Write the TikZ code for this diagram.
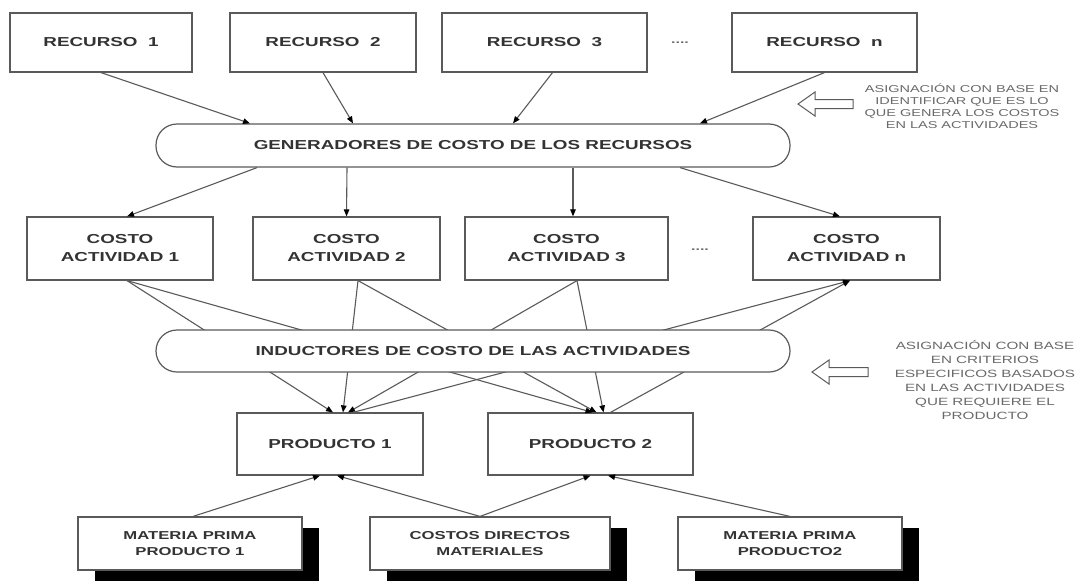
\documentclass[tikz,border=0pt]{standalone}
\usepackage{fontspec}
\newfontfamily\dfont{Liberation Sans}[FakeStretch=1.45]
\usetikzlibrary{arrows.meta,shadows}
\definecolor{linec}{HTML}{5A5A5A}
\definecolor{textc}{HTML}{333333}
\definecolor{notec}{HTML}{6A6A6A}
\begin{document}
\begin{tikzpicture}[x=1pt,y=-1pt,
  box/.style={draw=linec, line width=1.2pt, fill=white, inner sep=0pt, align=center,
    font=\dfont\bfseries\fontsize{13}{18}\selectfont, text=textc},
  pill/.style={box, rounded corners=21pt},
  sbox/.style={box, font=\dfont\bfseries\fontsize{11.5}{16}\selectfont,
    drop shadow={shadow xshift=17pt, shadow yshift=-11pt, fill=black, opacity=1}},
  conn/.style={draw=linec, line width=1.1pt, -{Triangle[length=7pt,width=5.5pt,color=black]}},
  plain/.style={draw=linec, line width=1.1pt},
  note/.style={align=center, inner sep=0pt, text=notec, font=\dfont\fontsize{10}{12}\selectfont},
  dots/.style={inner sep=0pt, text=notec, font=\dfont\bfseries\fontsize{11}{12}\selectfont},
  hollow/.style={draw=linec, line width=1pt, fill=white, line join=miter}]
\useasboundingbox[fill=white] (0,0) rectangle (1081,581);

% resources
\node[box, minimum width=182pt, minimum height=59pt] (r1) at (101,42.5) {RECURSO~~1};
\node[box, minimum width=186pt, minimum height=59pt] (r2) at (323,42.5) {RECURSO~~2};
\node[box, minimum width=205pt, minimum height=59pt] (r3) at (544.5,42.5) {RECURSO~~3};
\node[dots] (d1) at (680,43) {....};
\node[box, minimum width=185pt, minimum height=59pt] (rn) at (824.5,42.5) {RECURSO~~n};

% generators
\node[pill, minimum width=634pt, minimum height=43pt] (gen) at (473,145.5) {GENERADORES DE COSTO DE LOS RECURSOS};

% activities
\node[box, minimum width=186pt, minimum height=63pt] (a1) at (120,248.5) {COSTO\\ACTIVIDAD 1};
\node[box, minimum width=187pt, minimum height=63pt] (a2) at (346.5,248.5) {COSTO\\ACTIVIDAD 2};
\node[box, minimum width=203pt, minimum height=63pt] (a3) at (566.5,248.5) {COSTO\\ACTIVIDAD 3};
\node[dots] (d2) at (700,250) {....};
\node[box, minimum width=187pt, minimum height=63pt] (an) at (846.5,248.5) {COSTO\\ACTIVIDAD n};

% products
\node[box, minimum width=186pt, minimum height=62pt] (p1) at (330,444) {PRODUCTO 1};
\node[box, minimum width=205pt, minimum height=62pt] (p2) at (590.5,444) {PRODUCTO 2};

% bottom inputs
\node[sbox, minimum width=224pt, minimum height=53pt] (m1) at (190,543.5) {MATERIA PRIMA\\PRODUCTO 1};
\node[sbox, minimum width=240pt, minimum height=53pt] (cd) at (490,543.5) {COSTOS DIRECTOS\\MATERIALES};
\node[sbox, minimum width=224pt, minimum height=53pt] (m2) at (790,543.5) {MATERIA PRIMA\\PRODUCTO2};

% resources -> generators
\draw[conn] (r1.south) -- ([xshift=-223pt]gen.north);
\draw[conn] (r2.south) -- ([xshift=-120pt]gen.north);
\draw[conn] ([xshift=8pt]r3.south) -- ([xshift=40pt]gen.north);
\draw[conn] (rn.south) -- ([xshift=227pt]gen.north);

% generators -> activities
\draw[conn] ([xshift=-216pt]gen.south) -- ([xshift=7pt]a1.north);
\draw[conn] ([xshift=-126pt]gen.south) -- (a2.north);
\draw[conn] ([xshift=100pt]gen.south) -- ([xshift=6.5pt]a3.north);
\draw[conn] ([xshift=207pt]gen.south) -- ([xshift=-6.5pt]an.north);

% activities -> products (behind the inductores band)
\draw[conn] ([xshift=7pt]a1.south) -- ([xshift=3pt]p1.north);
\draw[conn] ([xshift=7pt]a1.south) -- ([xshift=2pt]p2.north);
\draw[conn] ([xshift=11.5pt]a2.south) -- ([xshift=13pt]p1.north);
\draw[conn] ([xshift=11.5pt]a2.south) -- ([xshift=6pt]p2.north);
\draw[conn] ([xshift=10.5pt]a3.south) -- ([xshift=18pt]p1.north);
\draw[conn] ([xshift=10.5pt]a3.south) -- ([xshift=13pt]p2.north);
\draw[conn] ([xshift=23pt]p1.north) -- ([xshift=3.5pt]an.south);
\draw[conn] ([xshift=20pt]p2.north) -- ([xshift=3.5pt]an.south);

% inductores band
\node[pill, minimum width=634pt, minimum height=42pt] (ind) at (473,351) {INDUCTORES DE COSTO DE LAS ACTIVIDADES};

% inputs -> products
\draw[conn] ([xshift=3pt]m1.north) -- ([xshift=-10pt]p1.south);
\draw[conn] ([xshift=-10pt]cd.north) -- ([xshift=7pt]p1.south);
\draw[conn] ([xshift=-10pt]cd.north) -- (p2.south);
\draw[conn] (m2.north) -- ([xshift=17.5pt]p2.south);

% notes
\draw[hollow] (798,104) -- (815,92) -- (815,99.5) -- (853,99.5) -- (853,108.5) -- (815,108.5) -- (815,116) -- cycle;
\node[note] (n1) at (962,106) {ASIGNACIÓN CON BASE EN\\IDENTIFICAR QUE ES LO\\QUE GENERA LOS COSTOS\\EN LAS ACTIVIDADES};

\draw[hollow] (812,372) -- (829,360) -- (829,367.5) -- (868,367.5) -- (868,376.5) -- (829,376.5) -- (829,384) -- cycle;
\node[note, font=\dfont\fontsize{10.5}{14}\selectfont] (n2) at (985,380) {ASIGNACIÓN CON BASE\\EN CRITERIOS\\ESPECIFICOS BASADOS\\EN LAS ACTIVIDADES\\QUE REQUIERE EL\\PRODUCTO};
\end{tikzpicture}
\end{document}
